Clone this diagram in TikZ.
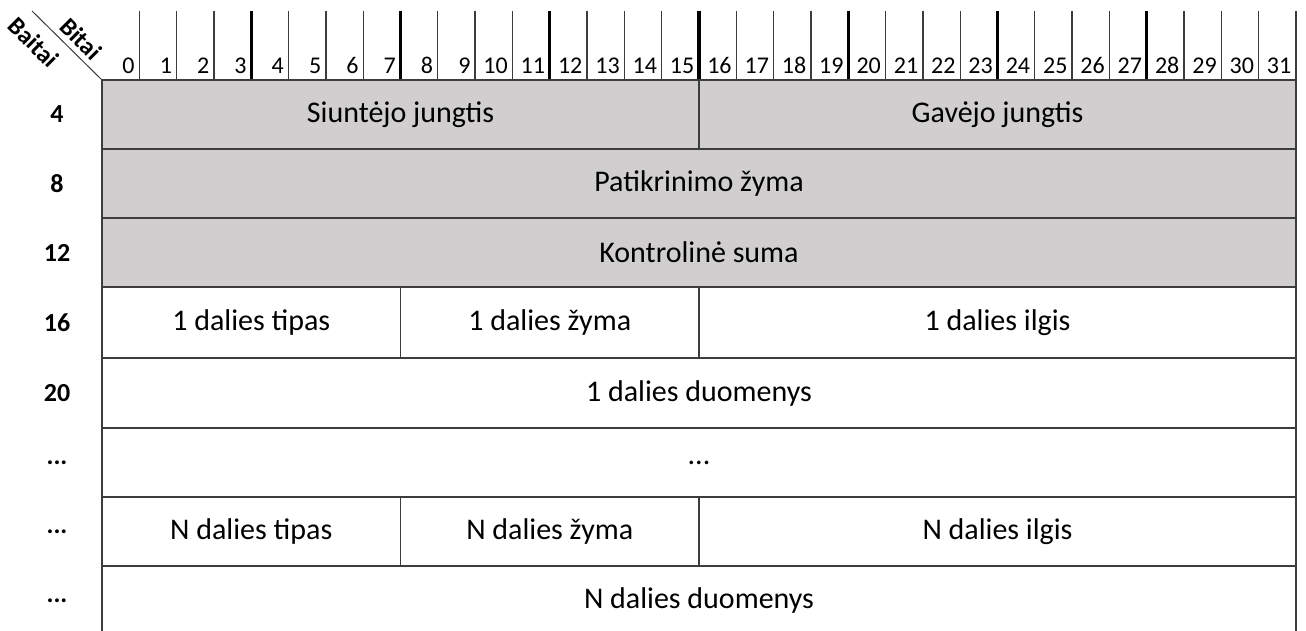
\documentclass[tikz,border=0pt]{standalone}
\usepackage{fontspec}
\setmainfont{Carlito}
\definecolor{hdrfill}{RGB}{208,206,206}
\definecolor{rulecol}{RGB}{60,60,60}
\begin{document}
\begin{tikzpicture}[x=1pt,y=-1pt,
  field/.style={draw=rulecol, line width=1.6pt, inner sep=0pt, outer sep=0pt,
    anchor=north west, font=\fontsize{30}{34}\selectfont},
  grayfield/.style={field, fill=hdrfill},
  tick/.style={line width=1.3pt, draw=rulecol},
  bigtick/.style={line width=3.2pt, draw=black},
  bitnum/.style={anchor=base east, inner sep=0pt, font=\fontsize{24}{27}\selectfont},
  rowlbl/.style={font=\bfseries\fontsize{26}{30}\selectfont},
  axislbl/.style={rotate=-45, inner sep=0pt, font=\bfseries\fontsize{25}{28}\selectfont}]
\useasboundingbox (0,0) rectangle (1306,631);
\def\bw{37.3125}

% bit ruler above the table
\foreach \i in {1,...,32}{
  \draw[tick] ({102+\i*\bw},11) -- ({102+\i*\bw},80);
}
\foreach \i in {4,8,...,28}{
  \draw[bigtick] ({102+\i*\bw},11) -- ({102+\i*\bw},80);
}
\foreach \i in {0,...,31}{
  \node[bitnum] (b\i) at ({102+(\i+1)*\bw-4.5},74) {\i};
}

% corner with the two axis captions
\coordinate (diagtop) at (32,11);
\coordinate (corner) at (102,80);
\draw[line width=1pt, draw=rulecol] (diagtop) -- (corner);
\node[axislbl] (bitai) at (81,39) {Bitai};
\node[axislbl] (baitai) at (34,42) {Baitai};

% header rows
\node[grayfield, minimum width={16*\bw}, minimum height=69] (src) at (102,80) {Siuntėjo jungtis};
\node[grayfield, minimum width={16*\bw}, minimum height=69] (dst) at ({102+16*\bw},80) {Gavėjo jungtis};
\node[grayfield, minimum width={32*\bw}, minimum height=69] (tag) at (102,149) {Patikrinimo žyma};
\node[grayfield, minimum width={32*\bw}, minimum height=69] (sum) at (102,218) {Kontrolinė suma};

% first chunk
\node[field, minimum width={8*\bw}, minimum height=71] (t1) at (102,287) {1 dalies tipas};
\node[field, minimum width={8*\bw}, minimum height=71] (z1) at ({102+8*\bw},287) {1 dalies žyma};
\node[field, minimum width={16*\bw}, minimum height=71] (l1) at ({102+16*\bw},287) {1 dalies ilgis};
\node[field, minimum width={32*\bw}, minimum height=70] (d1) at (102,358) {1 dalies duomenys};

% gap
\node[field, minimum width={32*\bw}, minimum height=69] (gap) at (102,428) {...};

% last chunk
\node[field, minimum width={8*\bw}, minimum height=69] (tn) at (102,497) {N dalies tipas};
\node[field, minimum width={8*\bw}, minimum height=69] (zn) at ({102+8*\bw},497) {N dalies žyma};
\node[field, minimum width={16*\bw}, minimum height=69] (ln) at ({102+16*\bw},497) {N dalies ilgis};
\node[field, minimum width={32*\bw}, minimum height=69] (dn) at (102,566) {N dalies duomenys};

% byte offsets
\node[rowlbl] (r4) at (57,114.5) {4};
\node[rowlbl] (r8) at (57,183.5) {8};
\node[rowlbl] (r12) at (57,252.5) {12};
\node[rowlbl] (r16) at (57,322.5) {16};
\node[rowlbl] (r20) at (57,393) {20};
\node[rowlbl] (r24) at (57,462.5) {...};
\node[rowlbl] (r28) at (57,531.5) {...};
\node[rowlbl] (r32) at (57,600.5) {...};
\end{tikzpicture}
\end{document}
